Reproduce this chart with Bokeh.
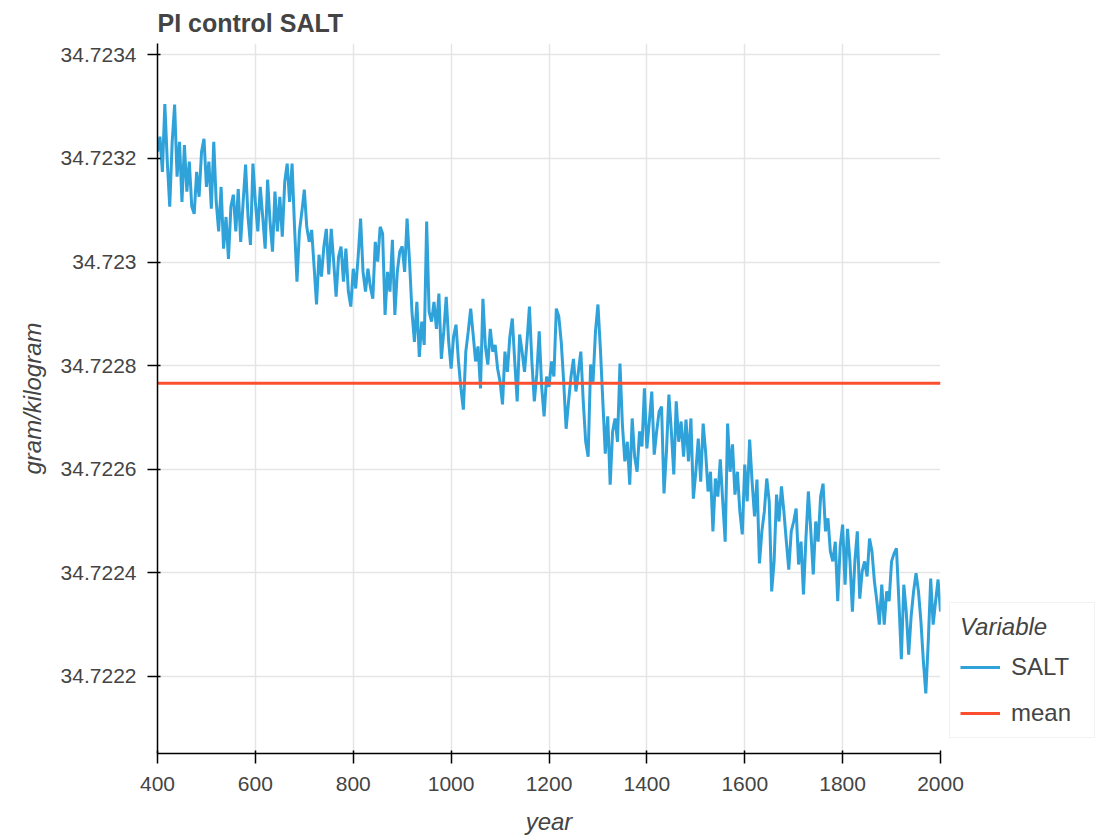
from bokeh.plotting import figure
from bokeh.models import Range1d, FixedTicker, Legend, LegendItem
from bokeh.embed import file_html
from bokeh.resources import INLINE

# ---- data ----
years = list(range(400, 2001, 5))
salt = [
    34.723213, 34.723242, 34.723174, 34.723305, 34.723194, 34.723107, 34.723232, 34.723304, 34.723165, 34.723232,
    34.723116, 34.723226, 34.723136, 34.723194, 34.723107, 34.723093, 34.723174, 34.723126, 34.723213, 34.723238,
    34.723145, 34.723194, 34.723103, 34.723232, 34.723116, 34.723059, 34.723145, 34.723026, 34.723087, 34.723006,
    34.723107, 34.723130, 34.723059, 34.723141, 34.723039, 34.723116, 34.723188, 34.723087, 34.723033, 34.723190,
    34.723116, 34.723059, 34.723145, 34.723087, 34.723026, 34.723159, 34.723078, 34.723020, 34.723136, 34.723059,
    34.723126, 34.723049, 34.723155, 34.723190, 34.723116, 34.723190, 34.723068, 34.722962, 34.723059, 34.723097,
    34.723140, 34.723068, 34.723039, 34.723062, 34.722991, 34.722918, 34.723014, 34.722972, 34.723030, 34.723064,
    34.722976, 34.723064, 34.723001, 34.722933, 34.723010, 34.723030, 34.722962, 34.723026, 34.722943, 34.722914,
    34.722987, 34.722949, 34.723010, 34.723084, 34.722981, 34.722943, 34.722987, 34.722952, 34.722929, 34.723039,
    34.723001, 34.723068, 34.723055, 34.722898, 34.722981, 34.722943, 34.723043, 34.722898, 34.722981, 34.723020,
    34.723030, 34.722981, 34.723084, 34.723001, 34.722904, 34.722846, 34.722923, 34.722817, 34.722885, 34.722840,
    34.723078, 34.722904, 34.722885, 34.722923, 34.722871, 34.722939, 34.722813, 34.722866, 34.722933, 34.722846,
    34.722794, 34.722856, 34.722879, 34.722808, 34.722756, 34.722715, 34.722827, 34.722866, 34.722910, 34.722860,
    34.722808, 34.722837, 34.722756, 34.722929, 34.722837, 34.722802, 34.722871, 34.722827, 34.722840, 34.722794,
    34.722769, 34.722725, 34.722827, 34.722788, 34.722856, 34.722891, 34.722808, 34.722731, 34.722860, 34.722827,
    34.722788, 34.722846, 34.722914, 34.722808, 34.722731, 34.722783, 34.722866, 34.722759, 34.722702, 34.722779,
    34.722759, 34.722808, 34.722779, 34.722910, 34.722895, 34.722846, 34.722769, 34.722678, 34.722731, 34.722779,
    34.722813, 34.722750, 34.722788, 34.722827, 34.722731, 34.722653, 34.722624, 34.722802, 34.722769, 34.722866,
    34.722918, 34.722833, 34.722731, 34.722630, 34.722702, 34.722570, 34.722673, 34.722698, 34.722653, 34.722804,
    34.722686, 34.722615, 34.722653, 34.722570, 34.722698, 34.722624, 34.722595, 34.722673, 34.722644, 34.722756,
    34.722640, 34.722692, 34.722750, 34.722628, 34.722673, 34.722711, 34.722721, 34.722553, 34.722634, 34.722744,
    34.722673, 34.722590, 34.722731, 34.722653, 34.722692, 34.722624, 34.722696, 34.722615, 34.722698, 34.722543,
    34.722595, 34.722659, 34.722576, 34.722688, 34.722634, 34.722557, 34.722595, 34.722480, 34.722582, 34.722547,
    34.722619, 34.722538, 34.722460, 34.722688, 34.722595, 34.722648, 34.722551, 34.722595, 34.722518, 34.722474,
    34.722609, 34.722538, 34.722657, 34.722576, 34.722509, 34.722580, 34.722418, 34.722480, 34.722518, 34.722582,
    34.722538, 34.722364, 34.722422, 34.722551, 34.722499, 34.722567, 34.722518, 34.722460, 34.722406, 34.722480,
    34.722499, 34.722524, 34.722416, 34.722460, 34.722358, 34.722466, 34.722557, 34.722480, 34.722397, 34.722499,
    34.722460, 34.722547, 34.722572, 34.722480, 34.722505, 34.722441, 34.722422, 34.722460, 34.722345, 34.722451,
    34.722493, 34.722377, 34.722485, 34.722422, 34.722325, 34.722422, 34.722480, 34.722350, 34.722403, 34.722422,
    34.722393, 34.722466, 34.722441, 34.722383, 34.722345, 34.722300, 34.722377, 34.722300, 34.722364, 34.722345,
    34.722422, 34.722437, 34.722447, 34.722345, 34.722233, 34.722377, 34.722325, 34.722242, 34.722316, 34.722364,
    34.722399, 34.722364, 34.722306, 34.722229, 34.722167, 34.722267, 34.722389, 34.722300, 34.722345, 34.722387,
    34.722325,
]
mean_salt = 34.722766

x_ticks = [400, 600, 800, 1000, 1200, 1400, 1600, 1800, 2000]
y_ticks = [34.7222, 34.7224, 34.7226, 34.7228, 34.723, 34.7232, 34.7234]
y_tick_labels = ["34.7222", "34.7224", "34.7226", "34.7228", "34.723", "34.7232", "34.7234"]

series_labels = ["SALT", "mean"]
series_colors = ["#30a2da", "#fc4f30"]

FONT = "Liberation Sans"
TXT = "#444444"

p = figure(
    frame_width=783, frame_height=710,
    output_backend="svg", toolbar_location=None,
    x_range=Range1d(400, 2000), y_range=Range1d(34.722051, 34.723422),
    title="PI control SALT",
    x_axis_label="year", y_axis_label="gram/kilogram",
    min_border_left=157, min_border_right=10, min_border_top=42, min_border_bottom=10,
)
p.outline_line_color = None
p.background_fill_color = "white"
p.border_fill_color = "white"

p.title.text_font = FONT
p.title.text_font_size = "25px"
p.title.text_font_style = "bold"
p.title.text_color = TXT
p.title.text_line_height = 1.0
p.title.align = "left"
p.title.standoff = 13

for ax in (p.xaxis[0], p.yaxis[0]):
    ax.axis_label_text_font = FONT
    ax.axis_label_text_font_size = "24px"
    ax.axis_label_text_font_style = "italic"
    ax.axis_label_text_color = TXT
    ax.major_label_text_font = FONT
    ax.major_label_text_font_size = "21px"
    ax.major_label_text_color = TXT
    ax.axis_line_width = 1.5
    ax.major_tick_line_width = 1.5
    ax.major_tick_out = 10
    ax.major_tick_in = 3
    ax.minor_tick_line_color = None

p.xaxis.major_label_standoff = 13
p.xaxis.axis_label_standoff = 14
p.yaxis.major_label_standoff = 11
p.yaxis.axis_label_standoff = 12

p.xaxis.ticker = FixedTicker(ticks=x_ticks)
p.yaxis.ticker = FixedTicker(ticks=y_ticks)
p.yaxis.major_label_overrides = {t: l for t, l in zip(y_ticks, y_tick_labels)}

p.xgrid.ticker = FixedTicker(ticks=x_ticks)
p.ygrid.ticker = FixedTicker(ticks=y_ticks)
p.grid.grid_line_color = "#e5e5e5"
p.grid.grid_line_width = 1.5

r_salt = p.line(years, salt, line_color=series_colors[0], line_width=3)
r_mean = p.line([years[0], years[-1]], [mean_salt, mean_salt], line_color=series_colors[1], line_width=3)

legend = Legend(
    items=[LegendItem(label=series_labels[0], renderers=[r_salt]),
           LegendItem(label=series_labels[1], renderers=[r_mean])],
    title="Variable",
    location=(9, 15),
)
legend.margin = 0
legend.padding = 10
legend.spacing = 18
legend.glyph_width = 40
legend.glyph_height = 28
legend.label_height = 28
legend.label_width = 73
legend.label_standoff = 11
legend.label_text_font = FONT
legend.label_text_font_size = "24px"
legend.label_text_color = TXT
legend.title_text_font = FONT
legend.title_text_font_size = "24px"
legend.title_text_font_style = "italic"
legend.title_text_color = TXT
legend.title_standoff = 12
legend.border_line_color = "#e5e5e5"
legend.border_line_width = 1.5
legend.background_fill_color = "white"
p.add_layout(legend, "right")

open("out.html", "w").write(file_html(p, INLINE))
